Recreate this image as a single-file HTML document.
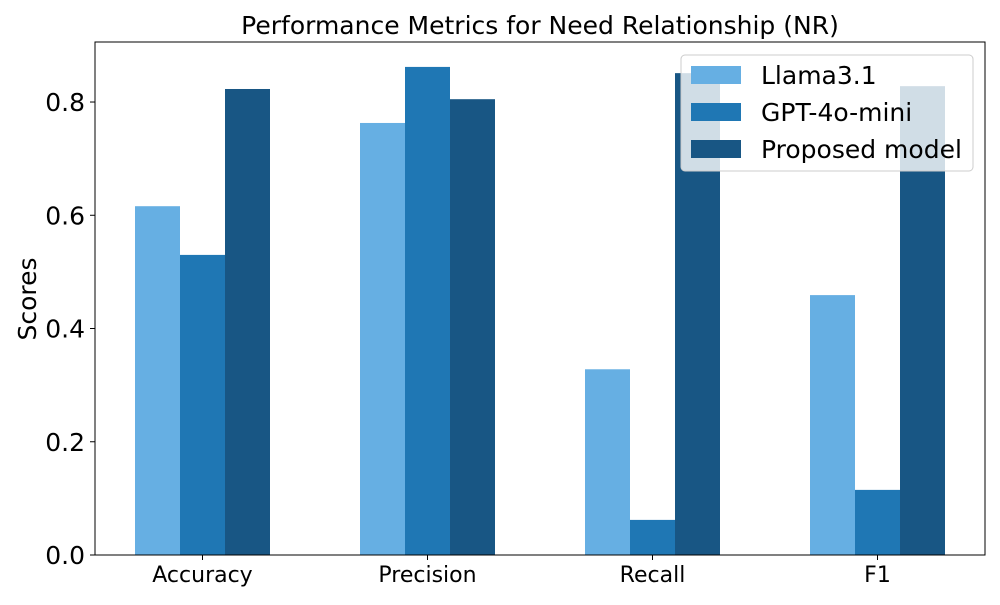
<!DOCTYPE html>
<html><head><meta charset="utf-8"><style>body{margin:0;background:#fff}svg{font-family:"DejaVu Sans","Liberation Sans",sans-serif}</style></head>
<body>
<svg id="c" width="1000" height="600"></svg>
<script>
const categories=["Accuracy","Precision","Recall","F1"];
const seriesNames=["Llama3.1","GPT-4o-mini","Proposed model"];
const llama=[0.616,0.763,0.328,0.459];
const gpt=[0.530,0.862,0.062,0.115];
const proposed=[0.823,0.805,0.851,0.828];
const yTicks=["0.0","0.2","0.4","0.6","0.8"];
const colors=["#66afe3","#1f77b4","#185684"];
const series=[llama,gpt,proposed];
const NS="http://www.w3.org/2000/svg",svg=document.getElementById('c');
const L=95,R=985,T=42,B=555,ymax=0.906;
const y=v=>B-v/ymax*(B-T);
const bw=45,step=225,x0=202.5;
const xc=i=>x0+i*step;
function mk(t,a,txt){const e=document.createElementNS(NS,t);for(const k in a)e.setAttribute(k,a[k]);if(txt!=null)e.textContent=txt;svg.appendChild(e);return e;}
series.forEach((s,si)=>s.forEach((v,i)=>{const r=mk('rect',{x:xc(i)+(si-1.5)*bw,y:y(v),width:bw,height:B-y(v),fill:colors[si]});

}));
const ax=mk('rect',{x:L,y:T,width:R-L,height:B-T,fill:'none',stroke:'#000','stroke-width':1});

yTicks.forEach(t=>{const yy=y(parseFloat(t));mk('line',{x1:L-5,x2:L,y1:yy,y2:yy,stroke:'#000'});
const e=mk('text',{x:L-10,y:yy+9,'text-anchor':'end','font-size':25},t);
});
categories.forEach((c,i)=>{mk('line',{x1:xc(i),x2:xc(i),y1:B,y2:B+5,stroke:'#000'});
const e=mk('text',{x:xc(i),y:582,'text-anchor':'middle','font-size':22},c);
});
let t=mk('text',{x:540,y:34,'text-anchor':'middle','font-size':25},'Performance Metrics for Need Relationship (NR)');

t=mk('text',{x:36,y:299,'text-anchor':'middle','font-size':25,transform:'rotate(-90 36 299)'},'Scores');

const lg=mk('rect',{x:681,y:55,width:292,height:116,rx:4,fill:'rgba(255,255,255,0.8)',stroke:'#ccc'});

seriesNames.forEach((n,i)=>{const yy=75+i*37;mk('rect',{x:691,y:yy-9,width:50,height:18,fill:colors[i]});
const e=mk('text',{x:761,y:yy+9,'font-size':25},n);
});
</script>
</body></html>
